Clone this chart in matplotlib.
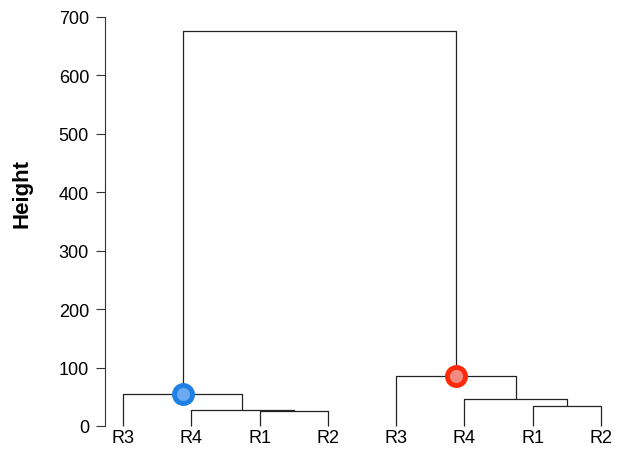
import matplotlib
matplotlib.use("Agg")
import matplotlib.pyplot as plt

plt.rcParams['font.family'] = ['Liberation Sans', 'DejaVu Sans']

leaf_labels = ["R3", "R4", "R1", "R2", "R3", "R4", "R1", "R2"]
# merges: (left child id, right child id, height); leaves are ids 0..7, new nodes 8..
merge_left = [2, 1, 0, 6, 5, 4, 10]
merge_right = [3, 8, 9, 7, 11, 12, 13]
merge_height = [25, 28, 55, 35, 47, 86, 676]
highlight_nodes = [10, 13]
highlight_edge = ["#1f7fe3", "#ff2a0a"]
highlight_face = ["#6aaaf2", "#f28a80"]
yticks = [0, 100, 200, 300, 400, 500, 600, 700]

W, H = 621, 452
fig = plt.figure(figsize=(W / 100, H / 100), dpi=100)
left_px, right_px, bottom_px, top_px = 105, 615, 427, 18
ax = fig.add_axes([left_px / W, (H - bottom_px) / H, (right_px - left_px) / W, (bottom_px - top_px) / H])

n = len(leaf_labels)
xs = {i: float(i) for i in range(n)}
hs = {i: 0.0 for i in range(n)}
line_kw = dict(color="#222222", lw=0.9, clip_on=False, solid_capstyle="butt")
for k, (a, b, h) in enumerate(zip(merge_left, merge_right, merge_height)):
    node = n + k
    xa, xb = xs[a], xs[b]
    ax.plot([xa, xa, xb, xb], [hs[a], h, h, hs[b]], **line_kw)
    xs[node] = (xa + xb) / 2
    hs[node] = h

for node, ec, fc in zip(highlight_nodes, highlight_edge, highlight_face):
    ax.plot([xs[node]], [hs[node]], marker="o", ms=13, mec=ec, mfc=fc, mew=3.5,
            clip_on=False, zorder=5)

spacing = 68.4
ax.set_xlim(-(123 - left_px) / spacing, 7 + (right_px - 601) / spacing)
ax.set_ylim(0, 700)
ax.set_xticks(range(n))
ax.set_xticklabels(leaf_labels, fontsize=13)
ax.set_yticks(yticks)
ax.set_yticklabels([str(v) for v in yticks], fontsize=13)
ax.tick_params(axis="x", length=0, pad=2)
ax.tick_params(axis="y", length=6.5, width=0.8, pad=5, color="#333333")
for s in ["top", "right", "bottom"]:
    ax.spines[s].set_visible(False)
ax.spines["left"].set_linewidth(0.8)
ax.spines["left"].set_color("#333333")
ax.set_ylabel("Height", fontsize=16, fontweight="bold")
ax.yaxis.set_label_coords((22 - left_px) / (right_px - left_px), (bottom_px - 194) / (bottom_px - top_px))
ax.yaxis.label.set_va("center")

fig.savefig("out.png", dpi=100)
